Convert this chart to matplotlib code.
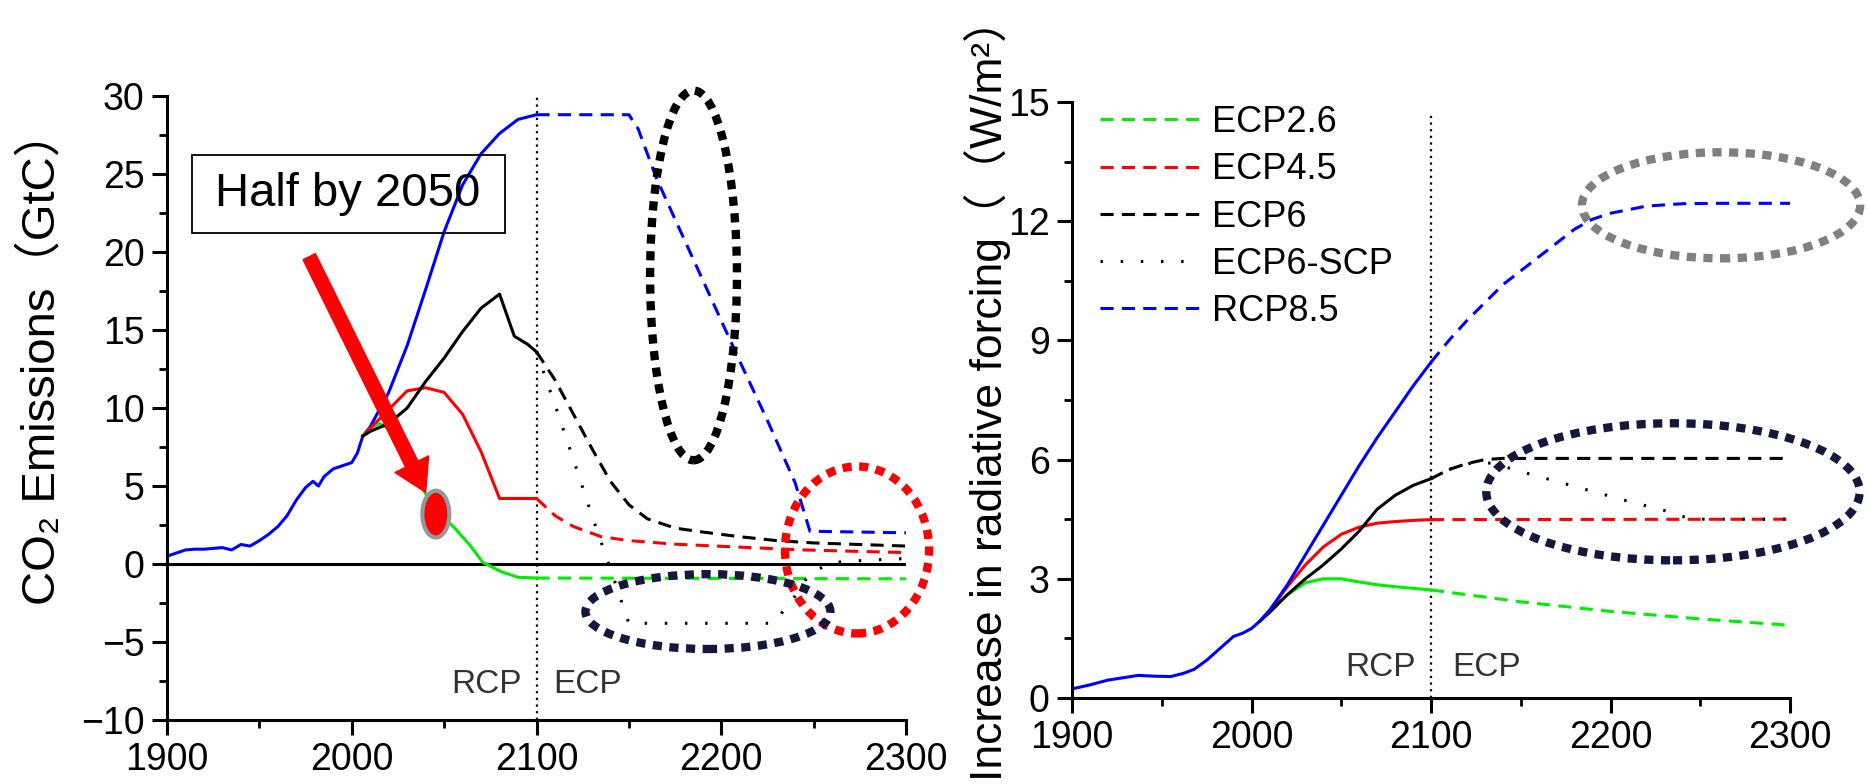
import matplotlib
matplotlib.use("Agg")
import matplotlib.pyplot as plt
from matplotlib.patches import Ellipse, Rectangle, FancyArrowPatch
from matplotlib.ticker import MultipleLocator

plt.rcParams["font.family"] = ["Liberation Sans", "DejaVu Sans", "Noto Sans CJK SC"]

# ---------------- left panel: CO2 emissions (GtC) ----------------
hist_year = [1900, 1905, 1910, 1915, 1920, 1925, 1930, 1935, 1940, 1945, 1950, 1955,
             1960, 1965, 1970, 1975, 1979, 1982, 1985, 1990, 1995, 2000, 2003, 2006]
hist_co2 = [0.5, 0.7, 0.9, 0.95, 0.95, 1.0, 1.05, 0.9, 1.25, 1.15, 1.5, 1.9,
            2.4, 3.1, 4.1, 4.9, 5.3, 5.0, 5.6, 6.1, 6.3, 6.5, 7.1, 8.2]

rcp85_year = [2006, 2010, 2020, 2030, 2040, 2050, 2060, 2070, 2080, 2090, 2100]
rcp85_co2 = [8.2, 8.8, 11.0, 14.0, 17.6, 21.3, 24.3, 26.3, 27.6, 28.5, 28.8]
ecp85_year = [2100, 2150, 2155, 2165, 2180, 2195, 2210, 2225, 2240, 2248, 2300]
ecp85_co2 = [28.8, 28.8, 27.9, 24.7, 20.8, 16.9, 13.0, 9.2, 5.2, 2.1, 2.0]

rcp6_year = [2006, 2010, 2020, 2030, 2040, 2050, 2060, 2070, 2080, 2088, 2095, 2100]
rcp6_co2 = [8.2, 8.5, 9.0, 10.0, 11.7, 13.2, 14.9, 16.4, 17.3, 14.6, 14.1, 13.6]
ecp6_year = [2100, 2110, 2120, 2130, 2140, 2150, 2160, 2175, 2190, 2210, 2230, 2250, 2275, 2300]
ecp6_co2 = [13.6, 11.8, 9.6, 7.4, 5.3, 3.8, 2.9, 2.3, 2.05, 1.75, 1.5, 1.35, 1.25, 1.15]
scp_year = [2100, 2110, 2120, 2130, 2140, 2150, 2190, 2228, 2238, 2248, 2260, 2280, 2300]
scp_co2 = [13.6, 10.2, 6.7, 3.1, -0.3, -3.8, -3.8, -3.8, -2.4, -0.6, 0.1, 0.25, 0.35]

rcp45_year = [2006, 2010, 2020, 2030, 2040, 2050, 2060, 2070, 2080, 2100]
rcp45_co2 = [8.2, 8.7, 9.9, 11.1, 11.3, 11.0, 9.6, 7.2, 4.2, 4.2]
ecp45_year = [2100, 2110, 2120, 2135, 2150, 2175, 2210, 2245, 2300]
ecp45_co2 = [4.2, 3.1, 2.4, 1.75, 1.5, 1.27, 1.08, 0.9, 0.73]

rcp26_year = [2006, 2010, 2015, 2020, 2030, 2040, 2046, 2055, 2064, 2071, 2081, 2090, 2100]
rcp26_co2 = [8.2, 8.7, 9.0, 8.7, 6.6, 4.5, 3.3, 2.4, 1.2, 0.1, -0.5, -0.85, -0.9]
ecp26_year = [2100, 2300]
ecp26_co2 = [-0.9, -0.95]

# ---------------- right panel: radiative forcing (W/m2) ----------------
hist_rf_year = [1900, 1910, 1920, 1930, 1937, 1945, 1955, 1962, 1968, 1975, 1980,
                1985, 1990, 1995, 2000, 2005]
hist_rf = [0.23, 0.33, 0.45, 0.52, 0.57, 0.55, 0.54, 0.62, 0.72, 0.95, 1.15,
           1.35, 1.55, 1.63, 1.75, 1.95]

rf_year = [2005, 2010, 2020, 2030, 2040, 2050, 2060, 2070, 2080, 2090, 2100]
rf85 = [1.95, 2.2, 2.85, 3.6, 4.35, 5.1, 5.85, 6.55, 7.2, 7.85, 8.45]
rf6 = [1.95, 2.15, 2.6, 3.0, 3.35, 3.75, 4.2, 4.75, 5.1, 5.35, 5.52]
rf45 = [1.95, 2.2, 2.8, 3.35, 3.8, 4.12, 4.3, 4.4, 4.44, 4.47, 4.49]
rf26 = [1.95, 2.2, 2.6, 2.9, 3.0, 3.0, 2.92, 2.85, 2.8, 2.76, 2.72]

ecp85_rf_year = [2100, 2110, 2120, 2130, 2140, 2150, 2160, 2170, 2180, 2190, 2200,
                 2220, 2240, 2260, 2300]
ecp85_rf = [8.45, 9.0, 9.5, 9.95, 10.4, 10.75, 11.1, 11.45, 11.8, 12.05, 12.2,
            12.38, 12.44, 12.45, 12.45]
ecp6_rf_year = [2100, 2110, 2120, 2130, 2140, 2300]
ecp6_rf = [5.52, 5.75, 5.9, 6.0, 6.03, 6.03]
scp_rf_year = [2100, 2110, 2125, 2135, 2150, 2170, 2190, 2210, 2230, 2245, 2300]
scp_rf = [5.52, 5.75, 5.95, 5.9, 5.7, 5.45, 5.2, 4.95, 4.72, 4.5, 4.5]
ecp45_rf_year = [2100, 2300]
ecp45_rf = [4.49, 4.5]
ecp26_rf_year = [2100, 2150, 2200, 2250, 2300]
ecp26_rf = [2.72, 2.42, 2.18, 1.99, 1.83]

legend_labels = ["ECP2.6", "ECP4.5", "ECP6", "ECP6-SCP", "RCP8.5"]

BLUE, RED, GREEN, BLACK = "#0000ff", "#ff0000", "#00ee00", "#000000"
NAVY = "#16173f"
LW = 2.2
DASH = (0, (4.3, 2.7))
DOT = (0, (0.8, 5.8))
VDOT = (0, (1.0, 2.0))
ELL = (0, (1.1, 0.9))


def style_axes(ax):
    for side in ("top", "right"):
        ax.spines[side].set_visible(False)
    for side in ("left", "bottom"):
        ax.spines[side].set_linewidth(2.2)
    ax.tick_params(which="major", direction="out", length=11, width=2.2,
                   labelsize=27, pad=5)
    ax.tick_params(which="minor", direction="out", length=6, width=2.0)
    ax.xaxis.set_major_locator(MultipleLocator(100))
    ax.xaxis.set_minor_locator(MultipleLocator(50))
    ax.set_xlim(1900, 2300)


fig = plt.figure(figsize=(18.68, 7.84), dpi=100)
ax1 = fig.add_axes([167 / 1868, 1 - 720 / 784, 739 / 1868, 624 / 784])
ax2 = fig.add_axes([1072 / 1868, 1 - 698 / 784, 718 / 1868, 596 / 784])

# ---- left ----
style_axes(ax1)
ax1.set_ylim(-10, 30)
ax1.yaxis.set_major_locator(MultipleLocator(5))
ax1.yaxis.set_minor_locator(MultipleLocator(2.5))
ax1.axhline(0, color=BLACK, lw=2.2, zorder=1)
ax1.plot([2100, 2100], [-10, 30], color=BLACK, lw=1.6, ls=VDOT)

ax1.plot(hist_year, hist_co2, color=BLUE, lw=LW)
ax1.plot(rcp85_year, rcp85_co2, color=BLUE, lw=LW)
ax1.plot(ecp85_year, ecp85_co2, color=BLUE, lw=LW, ls=DASH)
ax1.plot(rcp26_year, rcp26_co2, color=GREEN, lw=LW)
ax1.plot(ecp26_year, ecp26_co2, color=GREEN, lw=LW, ls=DASH)
ax1.plot(rcp45_year, rcp45_co2, color=RED, lw=LW)
ax1.plot(ecp45_year, ecp45_co2, color=RED, lw=LW, ls=DASH)
ax1.plot(rcp6_year, rcp6_co2, color=BLACK, lw=LW)
ax1.plot(ecp6_year, ecp6_co2, color=BLACK, lw=LW, ls=DASH)
ax1.plot(scp_year, scp_co2, color=BLACK, lw=LW, ls=DOT)

ax1.text(2092, -7.75, "RCP", fontsize=24, color="#333333", ha="right", va="center")
ax1.text(2109, -7.75, "ECP", fontsize=24, color="#333333", ha="left", va="center")

# "Half by 2050" box and arrow
ax1.add_patch(Rectangle((1913.5, 21.2), 169.5, 5.0, fill=False, ec=BLACK, lw=1.3,
                        zorder=5))
ax1.text(1998, 23.7, "Half by 2050", fontsize=34, ha="center", va="center", zorder=5)
ax1.add_patch(FancyArrowPatch((1977, 19.7), (2040, 4.6),
                              arrowstyle="simple,head_length=0.75,head_width=0.9,tail_width=0.33",
                              mutation_scale=30, color=RED, shrinkA=0, shrinkB=0,
                              zorder=6))
ax1.add_patch(Ellipse((2045.5, 3.2), 14.6, 3.0, fc=RED, ec="#8c9c9c", lw=3, zorder=7))

# highlight ellipses
ax1.add_patch(Ellipse((2185, 18.5), 47, 23.7, fill=False, ec=BLACK, lw=6, ls=ELL,
                      clip_on=False, zorder=8))
ax1.add_patch(Ellipse((2273.5, 0.9), 78, 10.7, fill=False, ec=RED, lw=6, ls=ELL,
                      clip_on=False, zorder=8))
ax1.add_patch(Ellipse((2192.8, -3.05), 132.6, 4.8, fill=False, ec=NAVY, lw=6, ls=ELL,
                      clip_on=False, zorder=8))

fig.text(42 / 1868, 1 - 605 / 784, "CO₂ Emissions（GtC）", fontsize=34, rotation=90,
         ha="center", va="bottom")

# ---- right ----
style_axes(ax2)
ax2.set_ylim(0, 15)
ax2.yaxis.set_major_locator(MultipleLocator(3))
ax2.yaxis.set_minor_locator(MultipleLocator(1.5))
ax2.plot([2100, 2100], [0, 14.7], color=BLACK, lw=1.6, ls=VDOT)

ax2.plot(hist_rf_year, hist_rf, color=BLUE, lw=LW)
ax2.plot(rf_year, rf26, color=GREEN, lw=LW)
ax2.plot(rf_year, rf45, color=RED, lw=LW)
ax2.plot(rf_year, rf6, color=BLACK, lw=LW)
ax2.plot(rf_year, rf85, color=BLUE, lw=LW)

h26, = ax2.plot(ecp26_rf_year, ecp26_rf, color=GREEN, lw=LW, ls=DASH)
h45, = ax2.plot(ecp45_rf_year, ecp45_rf, color=RED, lw=LW, ls=DASH)
h6, = ax2.plot(ecp6_rf_year, ecp6_rf, color=BLACK, lw=LW, ls=DASH)
hscp, = ax2.plot(scp_rf_year, scp_rf, color=BLACK, lw=LW, ls=DOT)
h85, = ax2.plot(ecp85_rf_year, ecp85_rf, color=BLUE, lw=LW, ls=DASH)

ax2.legend([h26, h45, h6, hscp, h85], legend_labels, loc="upper left",
           bbox_to_anchor=(0.039, 0.995), frameon=False, fontsize=26,
           handlelength=2.75, handletextpad=0.35, labelspacing=0.34,
           borderaxespad=0, borderpad=0)

ax2.text(2091.5, 0.78, "RCP", fontsize=24, color="#333333", ha="right", va="center")
ax2.text(2112, 0.78, "ECP", fontsize=24, color="#333333", ha="left", va="center")

ax2.add_patch(Ellipse((2261.6, 12.4), 155, 2.67, fill=False, ec="#808080", lw=6, ls=ELL,
                      clip_on=False, zorder=8))
ax2.add_patch(Ellipse((2234.8, 5.19), 208, 3.45, fill=False, ec=NAVY, lw=6, ls=ELL,
                      clip_on=False, zorder=8))

fig.text(987 / 1868, 1 - 781 / 784, "Increase in radiative forcing（（W/m²）",
         fontsize=32, rotation=90, ha="center", va="bottom")

fig.savefig("out.png", dpi=100)
